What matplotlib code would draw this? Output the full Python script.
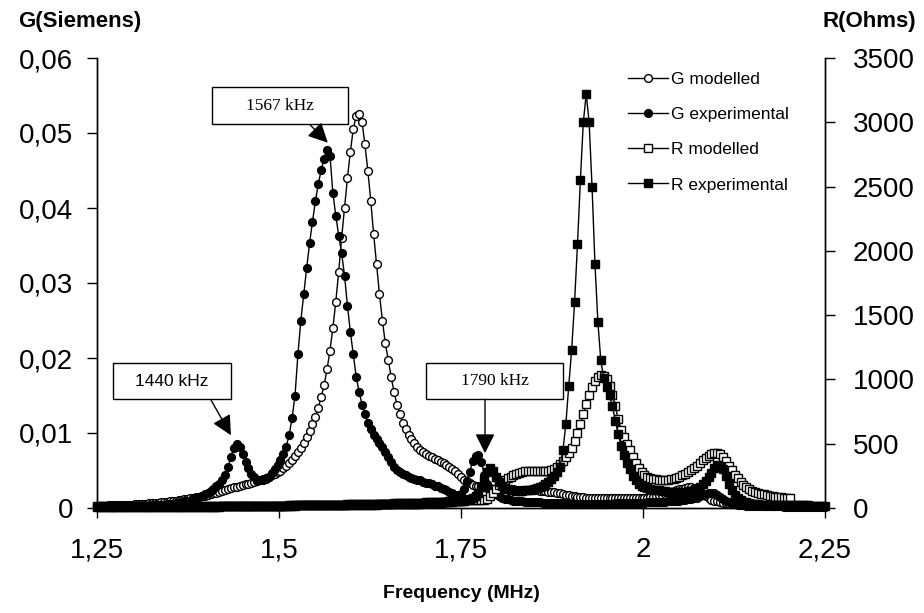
import numpy as np
import matplotlib
matplotlib.use('Agg')
import matplotlib.pyplot as plt
from matplotlib.patches import Rectangle

plt.rcParams['font.family'] = ['Liberation Sans', 'DejaVu Sans']

# frequency sweep (MHz), 0.004 MHz steps
freq = np.linspace(1.25, 2.25, 251)

# conductance, mS (axis labelled in S)
g_exp = [
    0.15, 0.15, 0.16, 0.17, 0.17, 0.18, 0.19, 0.2, 0.2, 0.21,
    0.22, 0.23, 0.24, 0.25, 0.26, 0.27, 0.28, 0.3, 0.32, 0.34,
    0.36, 0.38, 0.41, 0.45, 0.5, 0.55, 0.6, 0.66, 0.72, 0.8,
    0.88, 0.95, 1.0, 1.15, 1.3, 1.45, 1.65, 1.85, 2.05, 2.3,
    2.6, 2.9, 3.2, 3.7, 4.4, 5.5, 6.8, 8.0, 8.6, 8.1,
    7.2, 6.2, 5.3, 4.6, 4.1, 3.8, 3.7, 3.7, 3.9, 4.2,
    4.7, 5.2, 5.8, 6.4, 7.2, 8.2, 9.8, 12.0, 15.0, 20.5,
    25.0, 28.5, 32.0, 35.3, 38.2, 40.9, 43.2, 45.1, 46.6, 47.8,
    47.0, 42.0, 39.0, 36.3, 34.0, 31.0, 27.0, 23.5, 20.5, 17.5,
    15.5, 13.8, 12.5, 11.4, 10.5, 9.8, 9.2, 8.7, 8.2, 7.5,
    6.8, 6.1, 5.5, 5.1, 4.8, 4.6, 4.4, 4.2, 4.0, 3.9,
    3.8, 3.7, 3.5, 3.4, 3.3, 3.2, 3.0, 2.9, 2.7, 2.6,
    2.4, 2.2, 2.0, 1.8, 1.7, 1.9, 2.6, 3.6, 4.8, 6.3,
    7.0, 7.1, 6.2, 4.4, 3.2, 2.6, 2.2, 1.9, 1.6, 1.4,
    1.25, 1.15, 1.05, 1.0, 0.95, 0.9, 0.88, 0.85, 0.82, 0.8,
    0.78, 0.76, 0.74, 0.72, 0.7, 0.68, 0.66, 0.65, 0.64, 0.63,
    0.62, 0.61, 0.6, 0.6, 0.6, 0.6, 0.6, 0.6, 0.6, 0.6,
    0.6, 0.6, 0.6, 0.6, 0.6, 0.6, 0.6, 0.6, 0.62, 0.62,
    0.63, 0.64, 0.65, 0.66, 0.67, 0.68, 0.69, 0.7, 0.72, 0.74,
    0.76, 0.78, 0.8, 0.82, 0.84, 0.86, 0.88, 0.9, 0.93, 0.96,
    1.0, 1.05, 1.1, 1.15, 1.2, 1.3, 1.4, 1.55, 1.7, 1.85,
    1.95, 2.0, 1.95, 1.75, 1.5, 1.2, 0.95, 0.75, 0.6, 0.5,
    0.45, 0.4, 0.36, 0.33, 0.3, 0.28, 0.27, 0.26, 0.25, 0.24,
    0.23, 0.23, 0.22, 0.22, 0.21, 0.21, 0.2, 0.2, 0.2, 0.2,
    0.2, 0.2, 0.19, 0.19, 0.19, 0.18, 0.18, 0.18, 0.18, 0.18,
    0.18,
]

g_model = [
    0.3, 0.31, 0.32, 0.33, 0.34, 0.35, 0.36, 0.37, 0.38, 0.4,
    0.41, 0.43, 0.45, 0.47, 0.49, 0.52, 0.55, 0.58, 0.61, 0.65,
    0.68, 0.72, 0.76, 0.8, 0.85, 0.9, 0.95, 1.0, 1.05, 1.1,
    1.15, 1.2, 1.27, 1.34, 1.42, 1.5, 1.58, 1.66, 1.75, 1.85,
    1.95, 2.05, 2.15, 2.3, 2.45, 2.55, 2.65, 2.75, 2.85, 2.95,
    3.05, 3.15, 3.25, 3.35, 3.5, 3.6, 3.75, 3.9, 4.05, 4.2,
    4.4, 4.6, 4.8, 5.0, 5.3, 5.6, 6.0, 6.4, 6.9, 7.5,
    8.0, 8.7, 9.5, 10.3, 11.2, 12.2, 13.4, 14.8, 16.4, 18.5,
    21.0, 24.0, 27.5, 31.5, 36.0, 40.0, 44.0, 47.5, 50.5, 52.3,
    52.5, 51.5, 48.5, 45.0, 41.0, 36.5, 32.5, 28.5, 25.0, 22.0,
    19.8, 17.5, 15.5, 13.8, 12.5, 11.4, 10.5, 9.8, 9.2, 8.7,
    8.2, 7.8, 7.5, 7.2, 7.0, 6.8, 6.6, 6.4, 6.2, 6.0,
    5.8, 5.5, 5.2, 4.9, 4.5, 4.1, 3.8, 3.5, 3.3, 3.1,
    3.0, 2.9, 2.8, 2.75, 2.7, 2.65, 2.6, 2.6, 2.55, 2.55,
    2.5, 2.5, 2.5, 2.5, 2.45, 2.45, 2.45, 2.4, 2.4, 2.4,
    2.4, 2.35, 2.3, 2.3, 2.25, 2.2, 2.15, 2.1, 2.05, 2.0,
    1.9, 1.8, 1.7, 1.6, 1.55, 1.5, 1.45, 1.45, 1.4, 1.4,
    1.35, 1.35, 1.35, 1.3, 1.3, 1.3, 1.3, 1.3, 1.3, 1.3,
    1.3, 1.3, 1.3, 1.3, 1.3, 1.3, 1.3, 1.3, 1.35, 1.4,
    1.45, 1.5, 1.6, 1.7, 1.8, 1.9, 2.0, 2.1, 2.2, 2.35,
    2.5, 2.6, 2.7, 2.8, 2.8, 2.7, 2.5, 2.2, 1.9, 1.6,
    1.3, 1.1, 1.0, 0.9, 0.8, 0.72, 0.66, 0.6, 0.55, 0.5,
    0.47, 0.44, 0.42, 0.4, 0.38, 0.37, 0.36, 0.35, 0.34, 0.33,
    0.32, 0.32, 0.31, 0.31, 0.3, 0.3, 0.3, 0.3, 0.3,
]

# resistance, Ohms
r_exp = [
    12, 12, 12, 12, 12, 12, 12, 12, 12, 12,
    12, 12, 12, 12, 12, 13, 13, 13, 13, 13,
    13, 13, 13, 13, 13, 14, 14, 14, 14, 14,
    14, 14, 14, 15, 15, 15, 15, 15, 15, 15,
    15, 15, 16, 16, 16, 16, 16, 16, 16, 16,
    17, 17, 17, 17, 17, 17, 18, 18, 18, 18,
    18, 18, 19, 19, 19, 19, 20, 20, 20, 20,
    20, 21, 21, 21, 21, 22, 22, 22, 22, 23,
    23, 23, 23, 24, 24, 24, 24, 25, 25, 25,
    25, 26, 26, 26, 27, 27, 27, 28, 28, 28,
    29, 29, 30, 30, 31, 31, 32, 32, 33, 34,
    34, 35, 36, 37, 38, 39, 40, 41, 42, 44,
    45, 47, 49, 51, 53, 56, 59, 63, 68, 75,
    90, 120, 165, 220, 280, 310, 290, 245, 200, 170,
    155, 145, 140, 138, 136, 136, 136, 137, 138, 140,
    145, 152, 162, 175, 190, 205, 225, 250, 280, 320,
    450, 650, 950, 1230, 1600, 2050, 2550, 3000, 3220, 3000,
    2500, 1900, 1450, 1150, 1010, 940, 880, 790, 680, 575,
    480, 410, 350, 300, 250, 215, 190, 170, 160, 152,
    147, 143, 140, 137, 134, 131, 128, 126, 124, 124,
    124, 125, 127, 130, 134, 140, 150, 165, 185, 210,
    240, 275, 310, 332, 330, 300, 250, 190, 140, 100,
    75, 60, 50, 43, 38, 34, 31, 29, 27, 26,
    25, 24, 23, 23, 22, 22, 21, 21, 21, 20,
    20, 20, 20, 20, 20, 19, 19, 19, 19, 19,
    19,
]

r_model = [
    5, 5, 5, 5, 5, 5, 5, 6, 6, 6,
    6, 6, 6, 6, 6, 6, 7, 7, 7, 7,
    7, 7, 7, 8, 8, 8, 8, 8, 8, 9,
    9, 9, 9, 9, 10, 10, 10, 10, 10, 11,
    11, 11, 11, 12, 12, 12, 12, 13, 13, 13,
    13, 14, 14, 14, 14, 15, 15, 15, 16, 16,
    16, 17, 17, 17, 18, 18, 18, 19, 19, 20,
    20, 20, 21, 21, 22, 22, 23, 23, 24, 24,
    25, 25, 26, 26, 27, 27, 28, 28, 29, 29,
    30, 30, 31, 31, 32, 32, 33, 33, 34, 34,
    35, 35, 36, 36, 37, 38, 38, 39, 40, 40,
    41, 42, 42, 43, 44, 45, 46, 47, 48, 49,
    50, 51, 52, 54, 55, 56, 58, 59, 61, 62,
    63, 64, 65, 66, 70, 90, 120, 150, 180, 200,
    215, 230, 242, 255, 265, 273, 280, 285, 288, 290,
    290, 290, 289, 288, 288, 290, 295, 305, 320, 340,
    365, 395, 430, 470, 520, 580, 650, 730, 810, 880,
    940, 985, 1020, 1035, 1030, 1000, 950, 880, 790, 690,
    610, 550, 500, 450, 400, 350, 310, 280, 260, 245,
    235, 228, 222, 218, 216, 216, 218, 222, 228, 236,
    245, 256, 268, 282, 297, 313, 330, 350, 370, 390,
    408, 420, 427, 428, 418, 395, 365, 330, 295, 260,
    230, 205, 182, 163, 148, 136, 126, 118, 112, 106,
    101, 96, 92, 88, 85, 83, 81, 79, 78,
]

x_ticks = [1.25, 1.5, 1.75, 2.0, 2.25]
x_labels = ['1,25', '1,5', '1,75', '2', '2,25']
g_ticks = [0, 10, 20, 30, 40, 50, 60]
g_labels = ['0', '0,01', '0,02', '0,03', '0,04', '0,05', '0,06']
r_ticks = [0, 500, 1000, 1500, 2000, 2500, 3000, 3500]

# annotation boxes: text, box x0, x1, y0, y1 (MHz, mS), arrow start, arrow tip, font
notes = [
    ('1567 kHz', (1.408, 1.595, 51.2, 56.1), (1.5426, 51.1), (1.567, 48.7), 'Liberation Serif'),
    ('1440 kHz', (1.272, 1.434, 14.5, 19.3), (1.4066, 14.4), (1.434, 9.7), 'Liberation Sans'),
    ('1790 kHz', (1.702, 1.890, 14.5, 19.3), (1.783, 14.5), (1.783, 7.3), 'Liberation Serif'),
]

fig = plt.figure(figsize=(9.24, 6.13), dpi=100)
ax = fig.add_axes([97 / 924, 1 - 508 / 613, 728 / 924, 450 / 613])
ax2 = ax.twinx()

mk = dict(color='black', lw=1.0, ms=5.6, mew=1.0, mec='black', clip_on=False)
l1, = ax.plot(freq[:len(g_model)], g_model, marker='o', mfc='white', label='G modelled', **mk)
l2, = ax.plot(freq, g_exp, marker='o', mfc='black', label='G experimental', **mk)
l3, = ax2.plot(freq[:len(r_model)], r_model, marker='s', mfc='white', label='R modelled', **mk)
l4, = ax2.plot(freq, r_exp, marker='s', mfc='black', label='R experimental', **mk)

ax.set_xlim(1.25, 2.25)
ax.set_ylim(0, 60)
ax2.set_ylim(0, 3500)
ax.set_xticks(x_ticks, x_labels)
ax.set_yticks(g_ticks, g_labels)
ax2.set_yticks(r_ticks)

for a in (ax, ax2):
    a.spines['top'].set_visible(False)
    for s in a.spines.values():
        s.set_linewidth(1.0)
ax.tick_params(axis='x', direction='out', length=7, width=1, labelsize=20, pad=14)
ax.tick_params(axis='y', direction='out', length=7, width=1, labelsize=20, pad=10)
ax2.tick_params(axis='y', direction='out', length=7, width=1, labelsize=20, pad=13)

fig.text(80 / 924, 1 - 22 / 613, 'G(Siemens)', ha='center', va='center', fontsize=16, weight='bold')
fig.text(869 / 924, 1 - 22 / 613, 'R(Ohms)', ha='center', va='center', fontsize=16, weight='bold')
fig.text(461 / 924, 1 - 593 / 613, 'Frequency (MHz)', ha='center', va='center', fontsize=14, weight='bold')

for txt, (x0, x1, y0, y1), start, tip, fam in notes:
    ax2.add_patch(Rectangle((x0, y0), x1 - x0, y1 - y0, transform=ax.transData,
                            facecolor='white', edgecolor='black', lw=1.0, zorder=5))
    ax2.text((x0 + x1) / 2, (y0 + y1) / 2, txt, transform=ax.transData, ha='center', va='center',
             fontsize=12.5, family=fam, zorder=6)
    ax2.annotate('', xy=tip, xytext=start, xycoords=ax.transData, textcoords=ax.transData,
                 arrowprops=dict(arrowstyle='-|>', mutation_scale=30, color='black', lw=1.0,
                                 shrinkA=0, shrinkB=0), zorder=6)

ax2.legend([l1, l2, l3, l4], [l.get_label() for l in (l1, l2, l3, l4)],
           loc='upper left', bbox_to_anchor=(628 / 924, 1 - 72 / 613), bbox_transform=fig.transFigure,
           frameon=False, fontsize=12.5, handlelength=2.3, handletextpad=0.2, labelspacing=1.15,
           borderpad=0, borderaxespad=0)

fig.savefig('out.png', dpi=100)
